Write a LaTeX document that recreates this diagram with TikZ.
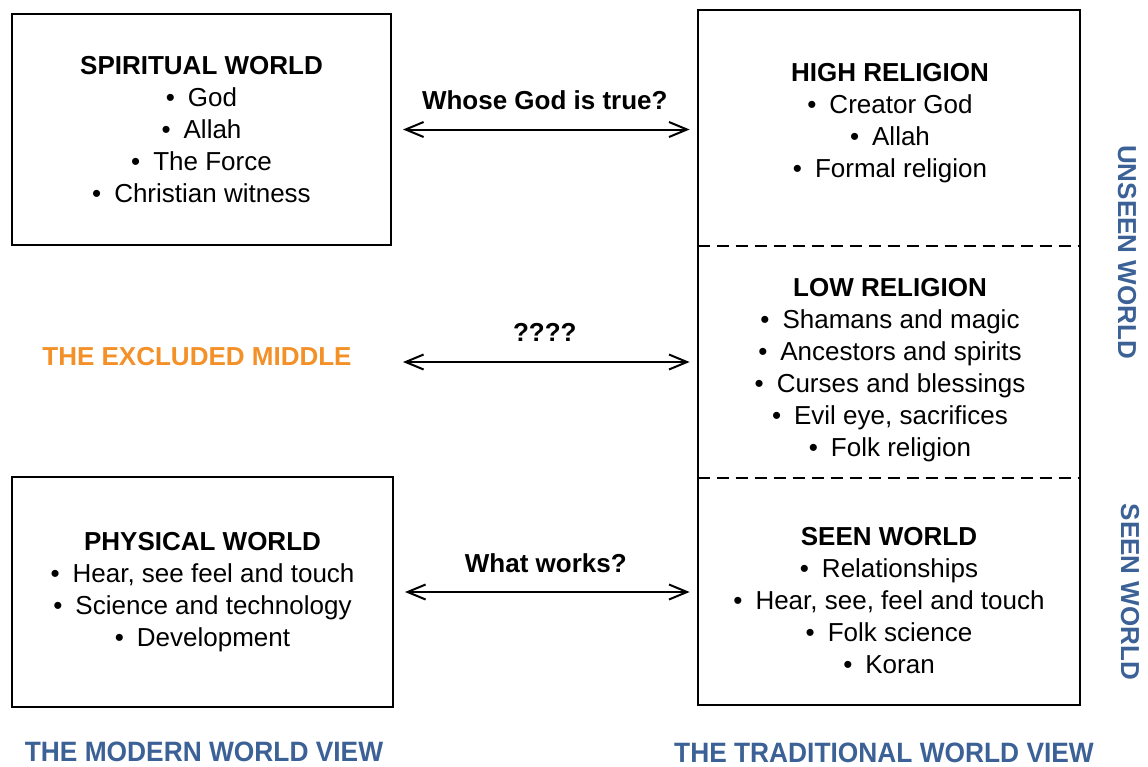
\documentclass[tikz,border=0pt]{standalone}
\usepackage{fontspec}
\setmainfont{Liberation Sans}
\usetikzlibrary{arrows.meta}
\definecolor{viewblue}{HTML}{3B6196}
\definecolor{midorange}{HTML}{F39028}
\newcommand{\bul}{\textbullet\enspace}

\begin{document}
\begin{tikzpicture}[x=0.5pt,y=-0.5pt]
    \tikzstyle{box}=[draw=black, line width=1pt, inner sep=0pt, align=center, font=\fontsize{13}{16}\selectfont];
    \tikzstyle{part}=[inner sep=0pt, minimum width=191pt];
    \tikzstyle{txt}=[align=center, font=\fontsize{13}{16}\selectfont, inner sep=0pt];
    \tikzstyle{head}=[font=\fontsize{13}{16}\selectfont\bfseries, inner sep=0pt];
    \tikzstyle{view}=[text=viewblue, font=\fontsize{14}{16}\selectfont\bfseries, xscale=.94, inner sep=0pt];
    \tikzstyle{arr}=[line width=1pt, {Straight Barb[length=9pt,width=7.5pt]}-{Straight Barb[length=9pt,width=7.5pt]}];

    \useasboundingbox (0,0) rectangle (1148,767);

    % modern world view
    \node (spirit) at (201.5,129.5) [box, minimum width=189.5pt, minimum height=115.5pt] {\textbf{SPIRITUAL WORLD}\\\bul God\\\bul Allah\\\bul The Force\\\bul Christian witness};
    \node (phys) at (202.5,592) [box, minimum width=190.5pt, minimum height=115pt] {\textbf{PHYSICAL WORLD}\\\bul Hear, see feel and touch\\\bul Science and technology\\\bul Development};
    \node (excl) at (197,357) [head, text=midorange] {THE EXCLUDED MIDDLE};

    % traditional world view
    \node (hi) at (889,128) [part, minimum height=118pt] {};
    \node (lo) at (889,362) [part, minimum height=116pt] {};
    \node (seen) at (889,591.5) [part, minimum height=113.5pt] {};
    \draw[line width=1pt] (hi.north west) rectangle (seen.south east);
    \draw[line width=1pt, dash pattern=on 6pt off 3.5pt] (lo.north west) -- (lo.north east);
    \draw[line width=1pt, dash pattern=on 6pt off 3.5pt] (lo.south west) -- (lo.south east);

    \node (hitxt) at (890,123.5) [txt] {\textbf{HIGH RELIGION}\\\bul Creator God\\\bul Allah\\\bul Formal religion};
    \node (lotxt) at (890,370) [txt] {\textbf{LOW RELIGION}\\\bul Shamans and magic\\\bul Ancestors and spirits\\\bul Curses and blessings\\\bul Evil eye, sacrifices\\\bul Folk religion};
    \node (seentxt) at (889,601) [txt] {\textbf{SEEN WORLD}\\\bul Relationships\\\bul Hear, see, feel and touch\\\bul Folk science\\\bul Koran};

    % arrows between the views
    \draw[arr, shorten <=5.5pt, shorten >=4pt] (spirit.east) -- (spirit.east -| hi.west) node[midway, above=9.5pt, head] (q1) {Whose God is true?};
    \draw[arr, shorten <=5.5pt, shorten >=4pt] (lo.west -| spirit.east) -- (lo.west) node[midway, above=9.8pt, head] (q2) {????};
    \draw[arr, shorten <=5.5pt, shorten >=4pt] (phys.east) -- (phys.east -| seen.west) node[midway, above=9.3pt, head] (q3) {What works?};

    % side and bottom labels
    \node (unseen) at (1127,252) [head, text=viewblue, rotate=-90] {UNSEEN WORLD};
    \node (seenlbl) at (1130,592) [head, text=viewblue, rotate=-90] {SEEN WORLD};
    \node (modern) at (204,752) [view] {THE MODERN WORLD VIEW};
    \node (trad) at (884,753) [view] {THE TRADITIONAL WORLD VIEW};
\end{tikzpicture}
\end{document}
